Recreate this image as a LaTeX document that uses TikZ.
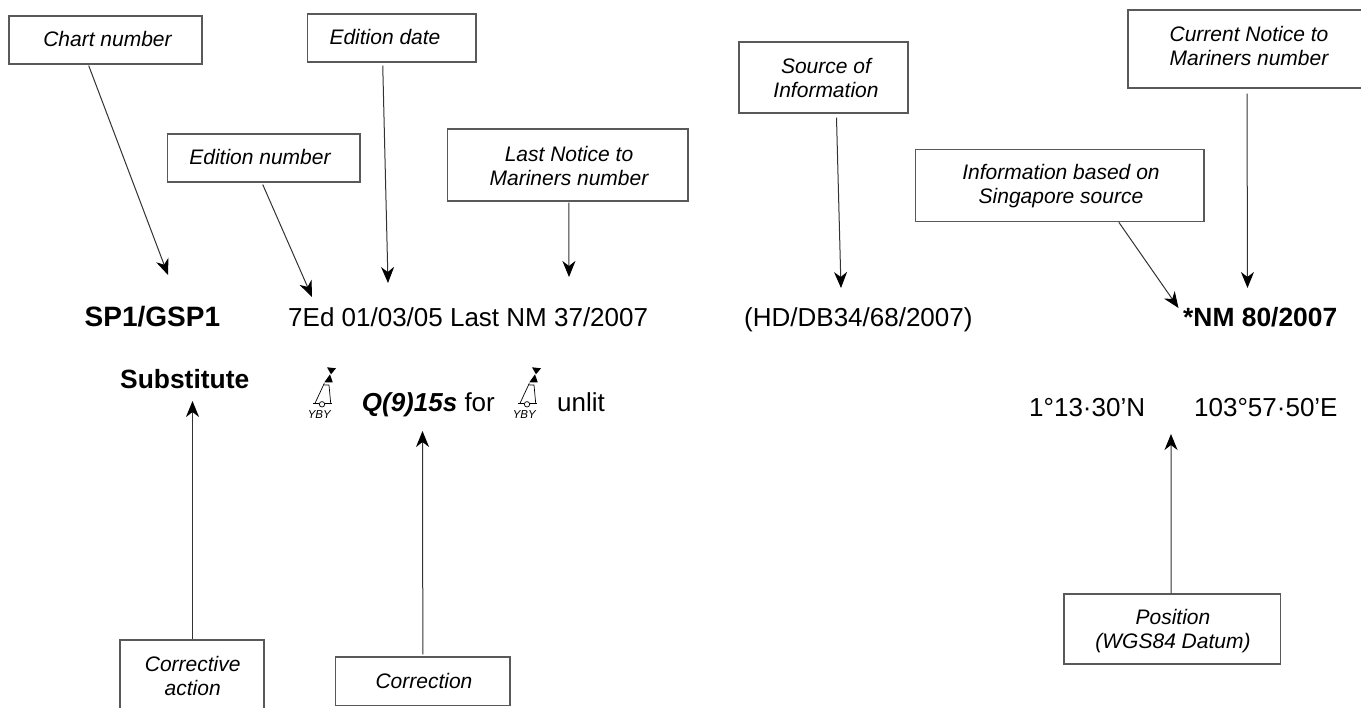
\documentclass[tikz,border=0pt]{standalone}
\usepackage{fontspec}
\setmainfont{Liberation Sans}
\usetikzlibrary{arrows.meta,calc}
\tikzset{
 x=1pt,y=-1pt,
 labbox/.style={draw=black!65,line width=1.2pt,inner sep=0pt},
 lab/.style={inner sep=0pt,align=center,font=\fontsize{21}{24}\selectfont\itshape},
 conn/.style={draw=black!80,line width=1pt,-{Stealth[length=16pt,width=13pt,inset=5pt,black]}},
 txt/.style={inner sep=0pt,anchor=base west,font=\fontsize{26}{30}\selectfont},
 btxt/.style={txt,font=\fontsize{26.4}{30}\selectfont\bfseries},
 buoyline/.style={line width=0.7pt},
}
\newcommand{\boxat}[8]{% name x1 y1 x2 y2 text tx ty
 \node[labbox,minimum width={(#4-#2)*1pt},minimum height={(#5-#3)*1pt}] (#1) at ({(#2+#4)/2},{(#3+#5)/2}) {};
 \node[lab] (#1t) at (#7,#8) {#6};}
\newcommand{\buoy}[2]{%
 \begin{scope}[shift={(#1)},buoyline]
  \fill (5,-37) -- (14,-36) -- (9,-30) -- cycle;
  \fill (8,-30) -- (2.3,-22) -- (10.7,-22) -- cycle;
  \draw (2.3,-21) -- (-7,-1) (7,-19.3) -- (8.7,-1) (2.3,-19.3) -- (7,-19.3);
  \draw (-8.7,-1) -- (-2.7,-1) (3,-1) -- (9.7,-1);
  \draw (0,0) circle (2.7);
  \node[inner sep=0pt,font=\fontsize{11.5}{12}\selectfont\itshape] (#2) at (-2.7,10.5) {YBY};
 \end{scope}}
\begin{document}
\begin{tikzpicture}
\useasboundingbox (0,0) rectangle (1361,708);
\fill[white] (0,0) rectangle (1361,708);
\clip (0,0) rectangle (1361,708);
\boxat{chartb}{9}{16}{202}{64}{Chart number}{107.5}{39}
\boxat{edateb}{307.5}{14}{476}{62}{Edition date}{385}{37}
\boxat{ednob}{167.5}{134}{360}{182}{Edition number}{260}{157}
\boxat{lastb}{447.5}{129}{688}{201}{Last Notice to\\Mariners number}{569}{166}
\boxat{srcb}{739}{42}{908}{113}{Source of\\Information}{826}{78}
\boxat{curb}{1128}{10}{1375}{88}{Current Notice to\\Mariners number}{1249}{46}
\boxat{infob}{915.7}{149.7}{1204}{221.7}{Information based on\\Singapore source}{1061}{186}
\boxat{corrb}{120}{640}{264}{730}{Corrective\\action}{192.7}{676}
\boxat{correctionb}{335.7}{657}{510}{705.7}{Correction}{424}{681}
\boxat{posb}{1064}{594}{1280.7}{664}{Position\\(WGS84 Datum)}{1173}{631}
\coordinate (a1) at (168,275);
\coordinate (a2) at (312,297);
\coordinate (a3) at (388,283);
\coordinate (a4) at (569,277);
\coordinate (a5) at (841,288);
\coordinate (a6) at (1178.5,308);
\coordinate (a7) at (1247.5,288);
\coordinate (a8) at (192.5,401);
\coordinate (a9) at (422.5,431);
\coordinate (a10) at (1171,434);
\draw[conn] ($(chartb.south)+(-16.8,1)$) -- (a1);
\draw[conn] ($(ednob.south)+(-1,2)$) -- (a2);
\draw[conn] ($(edateb.south)+(-9,3)$) -- (a3);
\draw[conn] ($(lastb.south)+(1,1)$) -- (a4);
\draw[conn] ($(srcb.south)+(13,4)$) -- (a5);
\draw[conn] ($(curb.south)+(-4.5,5)$) -- (a7);
\draw[conn] ($(infob.south)+(59,0)$) -- (a6);
\draw[conn] ($(corrb.north)+(0.5,0)$) -- (a8);
\draw[conn] ($(correctionb.north)+(0,-2)$) -- (a9);
\draw[conn] ($(posb.north)+(-1.3,0)$) -- (a10);
\node[btxt,font=\fontsize{28}{30}\selectfont\bfseries] (t1) at (84.5,327) {SP1/GSP1};
\node[txt] (t2) at (288,327) {7Ed 01/03/05 Last NM 37/2007};
\node[txt] (t3) at (744,327) {(HD/DB34/68/2007)};
\node[btxt] (t4) at (1183,327) {*NM 80/2007};
\node[btxt] (t5) at (120,389) {Substitute};
\node[txt] (t7) at (361.7,412) {\textbf{\textit{Q(9)15s}} for};
\node[txt] (t8) at (557,412) {unlit};
\node[txt] (t9) at (1029,416.5) {1°13·30’N};
\node[txt] (t10) at (1194,416.5) {103°57·50’E};
\buoy{322,404.3}{y1}
\buoy{527,404.3}{y2}
\end{tikzpicture}
\end{document}
